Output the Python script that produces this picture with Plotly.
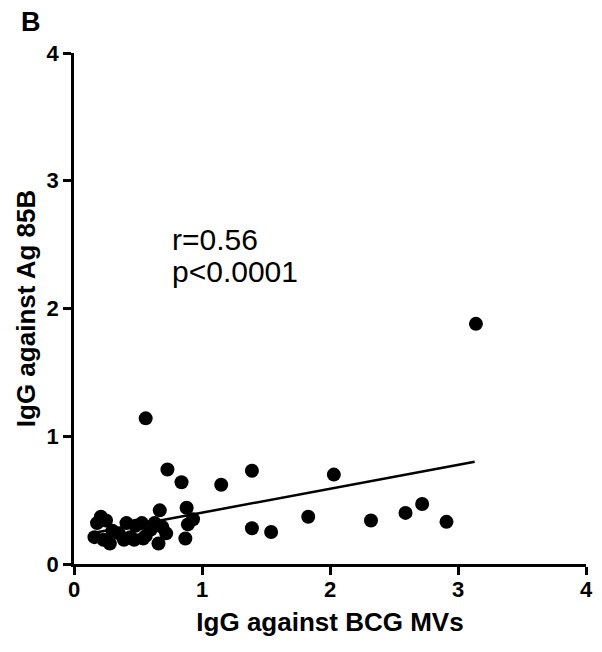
import plotly.graph_objects as go

# Data
bcg_mv = [0.16, 0.18, 0.21, 0.23, 0.25, 0.28, 0.30, 0.35, 0.39, 0.41,
          0.44, 0.47, 0.48, 0.53, 0.54, 0.56, 0.56, 0.60, 0.63, 0.66,
          0.67, 0.69, 0.72, 0.73, 0.84, 0.87, 0.88, 0.89, 0.93, 1.15,
          1.39, 1.39, 1.54, 1.83, 2.03, 2.32, 2.59, 2.72, 2.91, 3.14]
ag85b = [0.21, 0.32, 0.37, 0.19, 0.34, 0.16, 0.26, 0.24, 0.19, 0.32,
         0.21, 0.19, 0.30, 0.32, 0.20, 0.22, 1.14, 0.27, 0.32, 0.16,
         0.42, 0.29, 0.24, 0.74, 0.64, 0.20, 0.44, 0.31, 0.35, 0.62,
         0.73, 0.28, 0.25, 0.37, 0.70, 0.34, 0.40, 0.47, 0.33, 1.88]
fit_x = [0.16, 3.13]
fit_y = [0.245, 0.80]
tick_vals = [0, 1, 2, 3, 4]
tick_text = ["0", "1", "2", "3", "4"]

FONT = "Liberation Sans"

fig = go.Figure()
fig.add_trace(go.Scatter(x=fit_x, y=fit_y, mode="lines",
                         line=dict(color="black", width=2.5),
                         hoverinfo="skip", showlegend=False))
fig.add_trace(go.Scatter(x=bcg_mv, y=ag85b, mode="markers",
                         marker=dict(color="black", size=14, line=dict(width=0)),
                         cliponaxis=False, showlegend=False))

axis_common = dict(range=[0, 4], tickvals=tick_vals, ticktext=tick_text,
                   showgrid=False, zeroline=False, showline=True,
                   automargin=False,
                   linecolor="black", linewidth=2.5, ticks="outside",
                   ticklen=8, tickwidth=2.5, tickcolor="black",
                   tickfont=dict(family=FONT, size=22,
                                 color="black", weight="bold"))

# the page body adds an 8px offset; plot area aims at x 74..586, y 53..564
fig.update_layout(
    width=594, height=644,
    margin=dict(l=66, r=16, t=45, b=88, autoexpand=False),
    paper_bgcolor="white", plot_bgcolor="white",
    xaxis=dict(**axis_common, ticklabelstandoff=-4,
               title=dict(text="IgG against BCG MVs", standoff=12,
                          font=dict(family=FONT, size=26,
                                    color="black", weight="bold"))),
    yaxis=dict(**axis_common,
               title=dict(text="IgG against Ag 85B", standoff=4,
                          font=dict(family=FONT, size=26,
                                    color="black", weight="bold"))),
    annotations=[
        dict(x=0.75, y=2.54, xref="x", yref="y", text="r=0.56",
             showarrow=False, xanchor="left", yanchor="middle",
             font=dict(family=FONT, size=30, color="black")),
        dict(x=0.75, y=2.29, xref="x", yref="y", text="p<0.0001",
             showarrow=False, xanchor="left", yanchor="middle",
             font=dict(family=FONT, size=30, color="black")),
        dict(x=(31 - 74) / 512, y=1 + (53 - 22) / 511,
             xref="paper", yref="paper", text="B",
             showarrow=False, xanchor="center", yanchor="middle",
             font=dict(family=FONT, size=27, color="black", weight="bold")),
    ],
)

fig.write_html("out.html")
